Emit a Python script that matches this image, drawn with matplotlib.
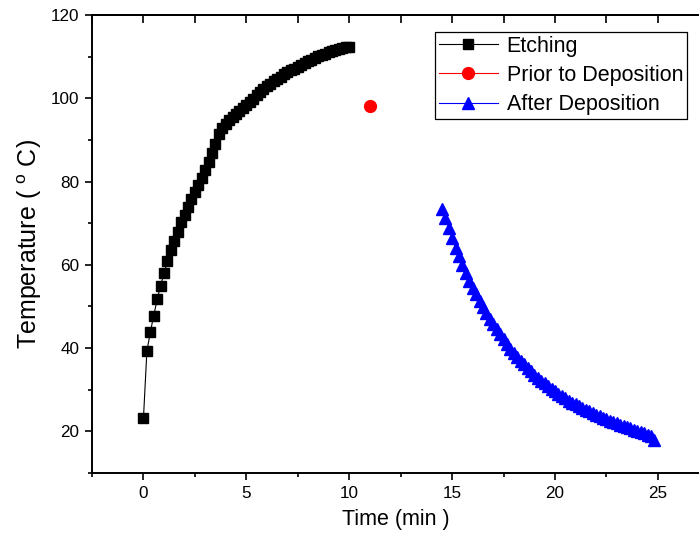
import matplotlib
matplotlib.use("Agg")
import matplotlib.pyplot as plt
from matplotlib.ticker import MultipleLocator

plt.rcParams['font.family'] = ['Liberation Sans', 'DejaVu Sans']
plt.rcParams['mathtext.fontset'] = 'custom'
plt.rcParams['mathtext.rm'] = 'Liberation Sans'
plt.rcParams['mathtext.it'] = 'Liberation Sans:italic'

# ---- data ----
etch_time = [i / 6 for i in range(61)]
etch_temp = [23.1, 39.2, 43.8, 47.8, 51.7, 55.0, 58.0, 60.8, 63.5, 65.8,
             68.0, 70.2, 72.0, 73.8, 75.7, 77.6, 79.2, 80.9, 82.7, 84.6,
             86.8, 89.0, 91.4, 92.8, 93.9, 94.8, 95.5, 96.2, 97.0, 97.7,
             98.3, 99.0, 99.9, 100.8, 101.6, 102.2, 102.9, 103.5, 104.1, 104.6,
             105.2, 105.8, 106.3, 106.7, 107.1, 107.6, 108.1, 108.5, 108.9, 109.3,
             109.7, 110.1, 110.4, 110.7, 111.0, 111.3, 111.6, 111.9, 112.1, 112.3,
             112.4]

prior_time = [11.0]
prior_temp = [98.1]

after_time = [14.5 + i / 6 for i in range(63)]
after_temp = [73.5, 71.2, 68.8, 66.4, 64.1, 62.0, 60.0, 58.0, 56.2, 54.5,
              52.9, 51.4, 49.9, 48.5, 47.1, 45.8, 44.5, 43.3, 42.1, 41.0,
              39.9, 38.9, 37.9, 37.0, 36.1, 35.2, 34.4, 33.6, 32.9, 32.2,
              31.5, 30.8, 30.2, 29.6, 29.0, 28.5, 27.9, 27.4, 26.9, 26.5,
              26.0, 25.6, 25.2, 24.8, 24.4, 24.0, 23.6, 23.3, 22.9, 22.6,
              22.3, 22.0, 21.6, 21.3, 21.0, 20.7, 20.4, 20.1, 19.8, 19.5,
              19.2, 18.9, 18.0]

labels = ["Etching", "Prior to Deposition", "After Deposition"]

# ---- figure ----
fig = plt.figure(figsize=(6.99, 5.46), dpi=100)
ax = fig.add_axes([92/699, 1 - 473/546, 1 - 92/699, (473 - 15)/546])

ax.plot(etch_time, etch_temp, color='black', lw=0.8, marker='s', ms=7.2,
        mfc='black', mec='black', label=labels[0])
ax.plot(prior_time, prior_temp, color='red', lw=0.8, marker='o', ms=8.5,
        mfc='red', mec='red', label=labels[1])
ax.plot(after_time, after_temp, color='blue', lw=0.8, marker='^', ms=9,
        mfc='blue', mec='blue', label=labels[2])

ax.set_xlim(-2.5, 27)
ax.set_ylim(10, 120)
ax.xaxis.set_major_locator(MultipleLocator(5))
ax.xaxis.set_minor_locator(MultipleLocator(2.5))
ax.yaxis.set_major_locator(MultipleLocator(20))
ax.yaxis.set_minor_locator(MultipleLocator(10))

for s in ax.spines.values():
    s.set_linewidth(1.4)
ax.spines['right'].set_visible(False)

ax.tick_params(axis='both', which='major', direction='out', length=5,
               width=1.2, labelsize=12.3, pad=4)
ax.tick_params(axis='both', which='minor', direction='out', length=3, width=1.2)
ax.tick_params(axis='x', which='both', top=False)
# top ticks inward
sec = ax.secondary_xaxis('top')
sec.xaxis.set_major_locator(MultipleLocator(2.5))
sec.tick_params(axis='x', which='major', direction='in', length=6, width=1.2,
                labeltop=False)
sec.spines['top'].set_linewidth(1.4)

ax.set_xlabel("Time (min )", fontsize=15.5, labelpad=6)
ax.set_ylabel(r"Temperature ( $^{\mathrm{o}}$ C)", fontsize=18, labelpad=5)

leg = ax.legend(loc='upper left', bbox_to_anchor=(0.565, 0.963),
                borderaxespad=0, fontsize=15.5, fancybox=False,
                edgecolor='black', framealpha=1, numpoints=1,
                handlelength=2.75, handletextpad=0.4, labelspacing=0.38,
                borderpad=0.18)
leg.get_frame().set_linewidth(0.9)

fig.savefig("out.png", dpi=100)
